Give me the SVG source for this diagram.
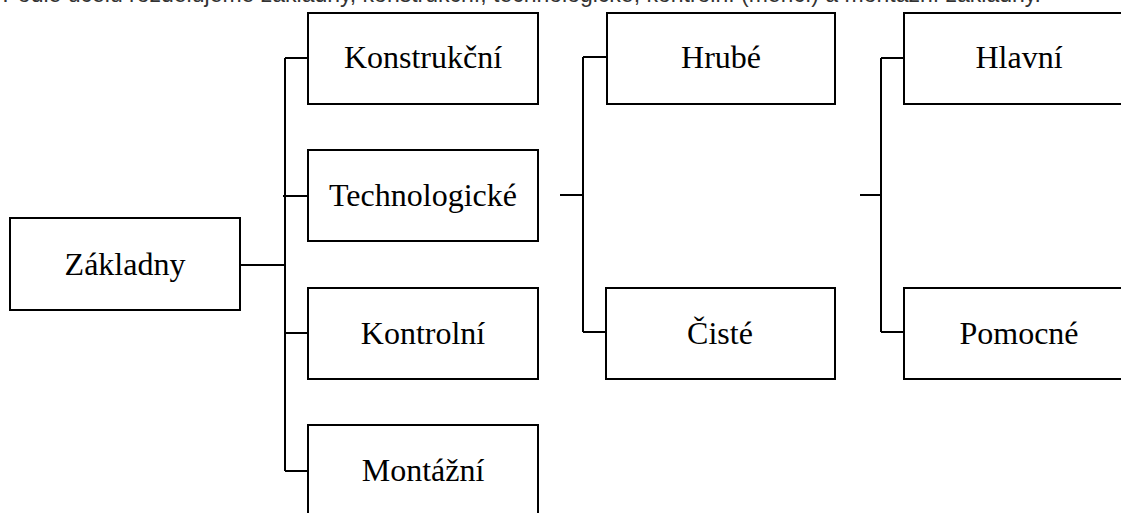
<svg xmlns="http://www.w3.org/2000/svg" width="1121" height="513" viewBox="0 0 1121 513">
<style>
.box{fill:#fff;stroke:#000;stroke-width:2}
.lbl{font-family:"Liberation Serif","Times New Roman",serif;font-size:32px;fill:#000;text-anchor:middle}
.ln{fill:none;stroke:#000;stroke-width:2}
.top{font-family:"Liberation Sans",Arial,sans-serif;font-size:23px;fill:#333;text-anchor:end}
</style>
<rect width="1121" height="513" fill="#fff"/>
<text class="top" x="1041" y="2">Podle účelu rozdělujeme základny, konstrukční, technologické, kontrolní (měřicí) a montážní základny.</text>
<g id="connectors">
<path class="ln" d="M240 265H285M285 58V471M285 58H308M283 196H308M285 333H308M285 471H308"/>
<path class="ln" d="M560 195H583M583 57V332M583 57H607M583 332H606"/>
<path class="ln" d="M860 195H881M881 58V332M881 58H904M881 332H904"/>
</g>
<g id="zakladny"><rect class="box" x="10" y="218" width="230" height="92"/><text class="lbl" x="125" y="275">Základny</text></g>
<g id="konstrukcni"><rect class="box" x="308" y="13" width="230" height="91"/><text class="lbl" x="423" y="68">Konstrukční</text></g>
<g id="technologicke"><rect class="box" x="308" y="150" width="230" height="91"/><text class="lbl" x="423" y="206">Technologické</text></g>
<g id="kontrolni"><rect class="box" x="308" y="288" width="230" height="91"/><text class="lbl" x="423" y="344">Kontrolní</text></g>
<g id="montazni"><rect class="box" x="308" y="425" width="230" height="91"/><text class="lbl" x="423" y="481">Montážní</text></g>
<g id="hrube"><rect class="box" x="607" y="13" width="228" height="91"/><text class="lbl" x="721" y="68">Hrubé</text></g>
<g id="ciste"><rect class="box" x="606" y="288" width="229" height="91"/><text class="lbl" x="720" y="344">Čisté</text></g>
<g id="hlavni"><rect class="box" x="904" y="13" width="230" height="91"/><text class="lbl" x="1019" y="68">Hlavní</text></g>
<g id="pomocne"><rect class="box" x="904" y="288" width="230" height="91"/><text class="lbl" x="1019" y="344">Pomocné</text></g>
</svg>
